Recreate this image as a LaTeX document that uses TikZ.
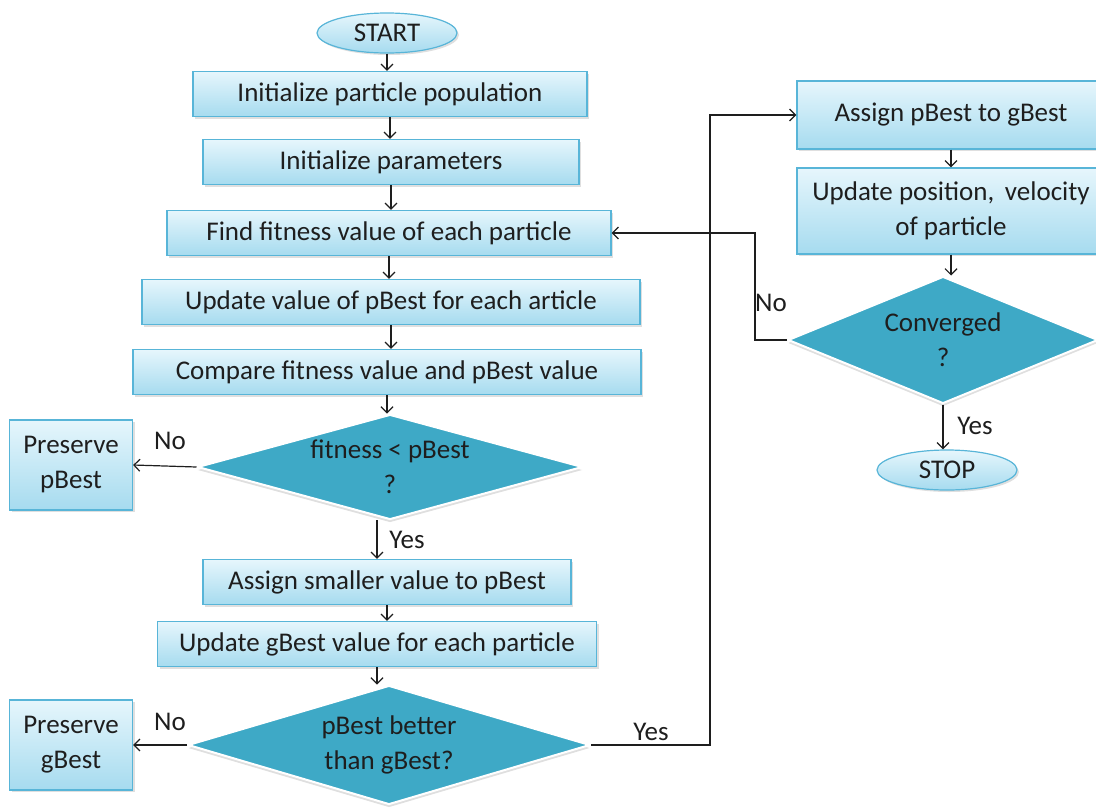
\documentclass[tikz,border=0pt]{standalone}
\usepackage{fontspec}
\setmainfont{Carlito}
\usetikzlibrary{arrows.meta,shapes.geometric,shadows}
\definecolor{boxtop}{HTML}{E6F6FC}
\definecolor{boxbot}{HTML}{A6DBEF}
\definecolor{boxline}{HTML}{58B5D8}
\definecolor{decfill}{HTML}{3EA9C6}
\definecolor{ink}{HTML}{1E1E1E}

\begin{document}
\begin{tikzpicture}[x=1pt,y=-1pt,font=\fontsize{27}{35}\selectfont,text=ink]
\tikzstyle{every node}=[inner sep=0pt, align=center]
\tikzstyle{proc}=[draw=boxline, line width=1.2pt, top color=boxtop, bottom color=boxbot, minimum height=45pt, drop shadow={shadow xshift=2pt,shadow yshift=-2pt,opacity=.25}]
\tikzstyle{term}=[proc, ellipse, minimum width=140pt, minimum height=40pt]
\tikzstyle{dec}=[diamond, fill=decfill, draw=white, line width=2pt, drop shadow={shadow xshift=0pt,shadow yshift=-3pt,opacity=.25}]
\tikzstyle{link}=[draw=ink, line width=1.2pt, -{Straight Barb[length=6pt,width=12pt]}]
\useasboundingbox (0,0) rectangle (1096,807);
% left column
\draw (387,33) node (start) [term] {START};
\draw (390,94) node (b1) [proc, minimum width=394pt] {Initialize particle population};
\draw (391,162) node (b2) [proc, minimum width=376pt] {Initialize parameters};
\draw (389,233) node (b3) [proc, minimum width=444pt] {Find fitness value of each particle};
\draw (391,302) node (b4) [proc, minimum width=498pt] {Update value of pBest for each article};
\draw (387,372) node (b5) [proc, minimum width=508pt] {Compare fitness value and pBest value};
\draw (390,467) node (d1) [dec, aspect=3.67, minimum width=385pt, minimum height=105pt] {fitness < pBest\\?};
\draw (71,465) node (pp) [proc, minimum width=123pt, minimum height=90pt] {Preserve\\pBest};
\draw (387,582) node (b6) [proc, minimum width=368pt] {Assign smaller value to pBest};
\draw (377,644) node (b7) [proc, minimum width=439pt] {Update gBest value for each particle};
\draw (389,745) node (d2) [dec, aspect=3.38, minimum width=402pt, minimum height=119pt] {pBest better\\than gBest?};
\draw (71,745) node (pg) [proc, minimum width=123pt, minimum height=90pt] {Preserve\\gBest};
% right column
\draw (951,115) node (b8) [proc, minimum width=308pt, minimum height=68pt] {Assign pBest to gBest};
\draw (951,211) node (b9) [proc, minimum width=308pt, minimum height=86pt] {Update position,\, velocity\\of particle};
\draw (943,340) node (d3) [dec, aspect=2.44, minimum width=310pt, minimum height=127pt] {Converged\\?};
\draw (947,470) node (stop) [term] {STOP};
% bends
\coordinate (c1) at (710,745);
\coordinate (c2) at (755,340);
\coordinate (c3) at (377,520);
% connectors
\draw[link] (start.south) -- (start.south |- b1.north);
\draw[link] (b1.south) -- (b1.south |- b2.north);
\draw[link] (b2.south) -- (b2.south |- b3.north);
\draw[link] (b3.south) -- (b3.south |- b4.north);
\draw[link] (b4.south) -- (b4.south |- b5.north);
\draw[link] (b5.south) -- (b5.south |- d1.north);
\draw[link] (d1.west) -- (pp.east);
\draw[link] (c3) -- (c3 |- b6.north);
\draw[link] (b6.south) -- (b6.south |- b7.north);
\draw[link] (b7.south) -- (b7.south |- d2.north);
\draw[link] (d2.west) -- (pg.east);
\draw[link] (d2.east) -- (c1) |- (b8.west);
\draw[link] (b8.south) -- (b8.south |- b9.north);
\draw[link] (b9.south) -- (b9.south |- d3.north);
\draw[link] (d3.west) -- (c2) |- (b3.east);
\draw[link] (d3.south) -- (d3.south |- stop.north);
% labels
\node (no1) at (170,441) {No};
\node (yes1) at (407,540) {Yes};
\node (no2) at (170,722) {No};
\node (yes2) at (651,732) {Yes};
\node (no3) at (771,303) {No};
\node (yes3) at (975,426) {Yes};
\end{tikzpicture}
\end{document}
